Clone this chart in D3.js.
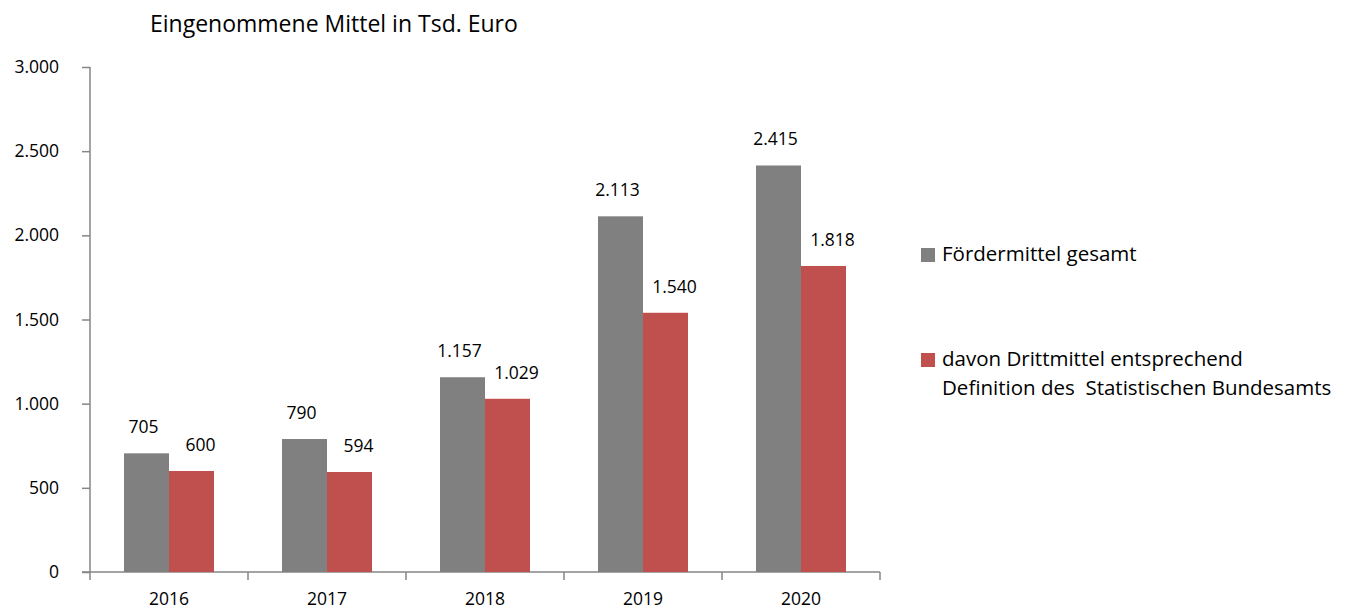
<!DOCTYPE html>
<html>
<head>
<meta charset="utf-8">
<script src="https://cdn.jsdelivr.net/npm/d3@7"></script>
<style>
  body { margin: 0; background: #fff; }
  text { font-family: "Open Sans", sans-serif; fill: #000; }
</style>
</head>
<body>
<script>
// data
const years = ["2016", "2017", "2018", "2019", "2020"];
const series = ["Fördermittel gesamt", "davon Drittmittel entsprechend"];
const gesamt = [705, 790, 1157, 2113, 2415];
const drittmittel = [600, 594, 1029, 1540, 1818];
const yTicks = [0, 500, 1000, 1500, 2000, 2500, 3000];
const colors = ["#808080", "#c0504d"];

document.addEventListener("DOMContentLoaded", () => {
    const width = 1356;
    const height = 615;
    const numSize = "17.5px";
    const legSize = "20.5px";
    const fmt = d3.formatLocale({ decimal: ",", thousands: ".", grouping: [3] }).format(",");

    const svg = d3.select("body")
        .append("svg")
        .attr("width", width)
        .attr("height", height);

    const x = d3.scaleBand().domain(years).range([90, 880]);
    const inner = d3.scaleBand().domain([0, 1]).range([34, 124]);
    const y = d3.scaleLinear().domain([0, 3000]).range([572, 67]);

    // title
    svg.append("text")
        .attr("x", 150).attr("y", 32)
        .style("font-size", "23px")
        .text("Eingenommene Mittel in Tsd. Euro");

    // y axis
    const yAxis = svg.append("g")
        .attr("transform", "translate(90,0)")
        .call(d3.axisLeft(y).tickValues(yTicks).tickSize(8).tickPadding(23).tickFormat(fmt));
    yAxis.selectAll("line, path").attr("stroke", "#868686").attr("stroke-width", 1.5);
    yAxis.selectAll("text").style("font-size", numSize).attr("fill", "#000");
    yAxis.select(".domain").attr("d", `M0,${y(3000)}V${y(0)}`);

    // x axis: boundary ticks + centered labels
    const xAxis = svg.append("g")
        .attr("transform", `translate(0,${y(0)})`)
        .call(d3.axisBottom(x).tickSize(0).tickPadding(21));
    xAxis.select(".domain")
        .attr("d", `M82,0H${x.range()[1]}`)
        .attr("stroke", "#868686").attr("stroke-width", 1.5);
    xAxis.selectAll("text").style("font-size", numSize).attr("fill", "#000");
    const bounds = years.map(d => x(d)).concat([x.range()[1]]);
    xAxis.selectAll(".bound")
        .data(bounds)
        .enter()
        .append("line")
        .attr("class", "bound")
        .attr("x1", d => d).attr("x2", d => d)
        .attr("y1", 0).attr("y2", 8)
        .attr("stroke", "#868686").attr("stroke-width", 1.5);

    // bars
    const rows = years.map((yr, i) => ({ year: yr, values: [gesamt[i], drittmittel[i]] }));
    const groups = svg.selectAll(".grp")
        .data(rows)
        .enter()
        .append("g")
        .attr("class", "grp")
        .attr("transform", d => `translate(${x(d.year)},0)`);

    groups.selectAll("rect")
        .data(d => d.values.map((v, k) => ({ v, k })))
        .enter()
        .append("rect")
        .attr("x", d => inner(d.k))
        .attr("y", d => y(d.v))
        .attr("width", inner.bandwidth())
        .attr("height", d => y(0) - y(d.v))
        .attr("fill", d => colors[d.k]);

    const labelShift = [-3, 9];
    groups.selectAll(".val")
        .data(d => d.values.map((v, k) => ({ v, k })))
        .enter()
        .append("text")
        .attr("class", "val")
        .attr("x", d => inner(d.k) + inner.bandwidth() / 2 + labelShift[d.k])
        .attr("y", d => y(d.v) - 20)
        .attr("text-anchor", "middle")
        .style("font-size", numSize)
        .text(d => fmt(d.v));

    // legend
    const legend = svg.append("g");
    legend.append("rect").attr("x", 921).attr("y", 248).attr("width", 14).attr("height", 14).attr("fill", colors[0]);
    legend.append("text").attr("x", 942).attr("y", 261).style("font-size", legSize).text(series[0]);
    legend.append("rect").attr("x", 921).attr("y", 353).attr("width", 14).attr("height", 14).attr("fill", colors[1]);
    legend.append("text").attr("x", 942).attr("y", 366).style("font-size", legSize).text(series[1]);
    legend.append("text").attr("x", 942).attr("y", 395).style("font-size", legSize)
        .attr("xml:space", "preserve")
        .text("Definition des  Statistischen Bundesamts");
});
</script>
</body>
</html>
